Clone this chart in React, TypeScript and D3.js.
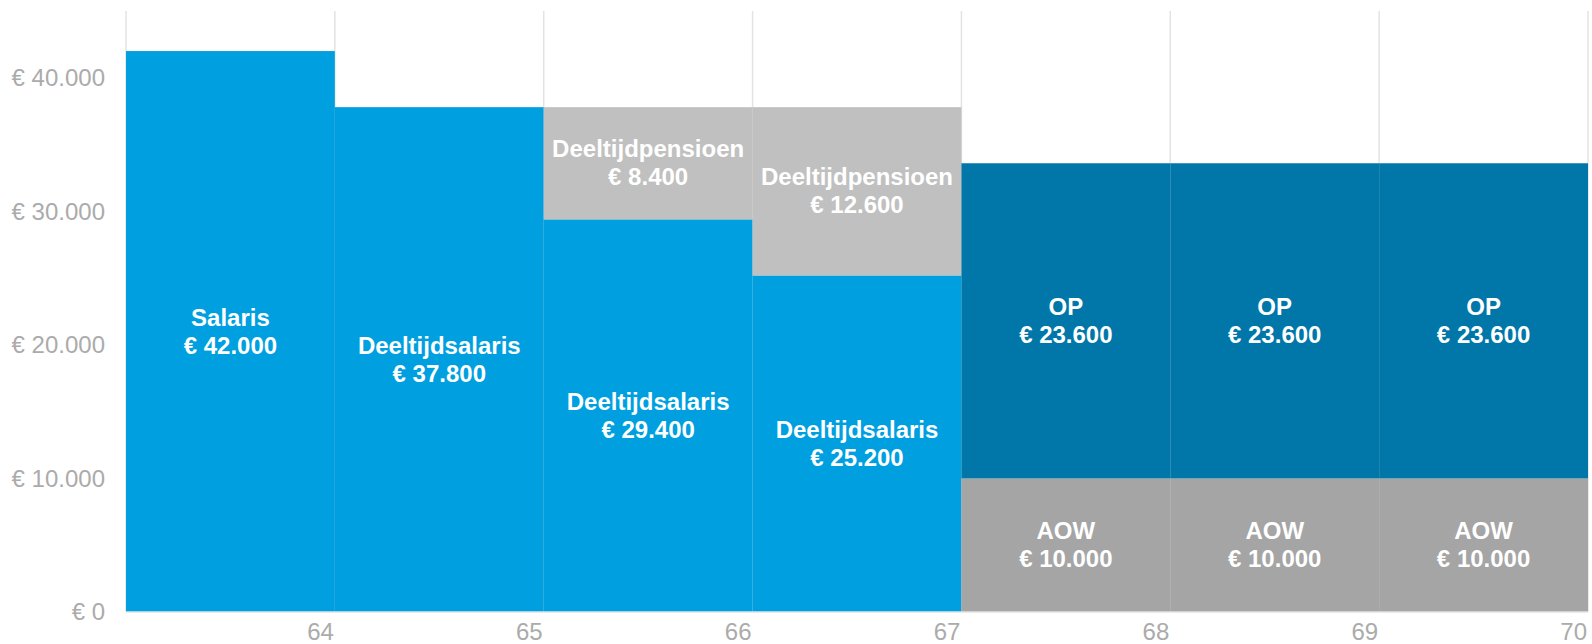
import React from "react";
import * as d3 from "d3";

const ages = [63, 64, 65, 66, 67, 68, 69];
const xTicks = [64, 65, 66, 67, 68, 69, 70];
const yTicks = [0, 10000, 20000, 30000, 40000];

const salaryValues = [42000, 37800, 29400, 25200, 0, 0, 0];
const salaryNames = ["Salaris", "Deeltijdsalaris", "Deeltijdsalaris", "Deeltijdsalaris", "", "", ""];
const aowValues = [0, 0, 0, 0, 10000, 10000, 10000];
const partPensionValues = [0, 0, 8400, 12600, 0, 0, 0];
const opValues = [0, 0, 0, 0, 23600, 23600, 23600];

const seriesKeys = ["salary", "aow", "partPension", "op"];
const seriesColors: Record<string, string> = {
  salary: "#009FDF",
  aow: "#A5A5A5",
  partPension: "#C0C0C0",
  op: "#0077A8",
};

const W = 1592;
const H = 644;
const M = { left: 126, right: 4, top: 11, bottom: 32 };

const locale = d3.formatLocale({
  decimal: ",",
  thousands: ".",
  grouping: [3],
  currency: ["€ ", ""],
});
const fmt = locale.format("$,.0f");

export default function App() {
  const rows = ages.map((a, i) => ({
    age: a,
    salary: salaryValues[i],
    aow: aowValues[i],
    partPension: partPensionValues[i],
    op: opValues[i],
    salaryName: salaryNames[i],
  }));
  const stack = d3.stack<any>().keys(seriesKeys);
  const series = stack(rows);

  const x = d3.scaleLinear().domain([63, 70]).range([M.left, W - M.right]);
  const y = d3.scaleLinear().domain([0, 45000]).range([H - M.bottom, M.top]);

  const nameFor = (key: string, row: any) => {
    if (key === "salary") return row.salaryName;
    if (key === "aow") return "AOW";
    if (key === "partPension") return "Deeltijdpensioen";
    return "OP";
  };

  const gridXs = [63, ...xTicks];

  return (
    <svg
      width={W}
      height={H}
      style={{ position: "absolute", left: 0, top: 0, display: "block" }}
      fontFamily="'Liberation Sans', Arial, sans-serif"
    >
      <rect width={W} height={H} fill="#fff" />
      {gridXs.map((t) => (
        <line
          key={"g" + t}
          x1={x(t)}
          x2={x(t)}
          y1={y(45000)}
          y2={y(0)}
          stroke="#E3E3E3"
          strokeWidth={1.5}
        />
      ))}
      {series.map((s) =>
        s.map((d, i) => {
          const v = d[1] - d[0];
          if (v <= 0) return null;
          const row = rows[i];
          const x0 = x(row.age);
          const x1 = x(row.age + 1);
          return (
            <rect
              key={s.key + i}
              x={x0}
              width={x1 - x0}
              y={y(d[1])}
              height={y(d[0]) - y(d[1])}
              fill={seriesColors[s.key]}
            />
          );
        })
      )}
      <line x1={x(63)} x2={x(70)} y1={y(0)} y2={y(0)} stroke="#E3E3E3" strokeWidth={1.5} />
      {series.map((s) =>
        s.map((d, i) => {
          const v = d[1] - d[0];
          if (v <= 0) return null;
          const row = rows[i];
          const cx = (x(row.age) + x(row.age + 1)) / 2;
          const cy = (y(d[0]) + y(d[1])) / 2;
          return (
            <text
              key={"t" + s.key + i}
              x={cx}
              textAnchor="middle"
              fill="#fff"
              fontWeight="bold"
              fontSize={24}
            >
              <tspan x={cx} y={cy - 6}>{nameFor(s.key as string, row)}</tspan>
              <tspan x={cx} y={cy + 22}>{fmt(v)}</tspan>
            </text>
          );
        })
      )}
      {yTicks.map((t) => (
        <text
          key={"y" + t}
          x={105}
          y={y(t)}
          dy="0.35em"
          textAnchor="end"
          fill="#ABABAB"
          fontSize={24}
        >
          {fmt(t)}
        </text>
      ))}
      {xTicks.map((t) => (
        <text
          key={"x" + t}
          x={x(t) - 1}
          y={640}
          textAnchor="end"
          fill="#ABABAB"
          fontSize={24}
        >
          {t}
        </text>
      ))}
    </svg>
  );
}
